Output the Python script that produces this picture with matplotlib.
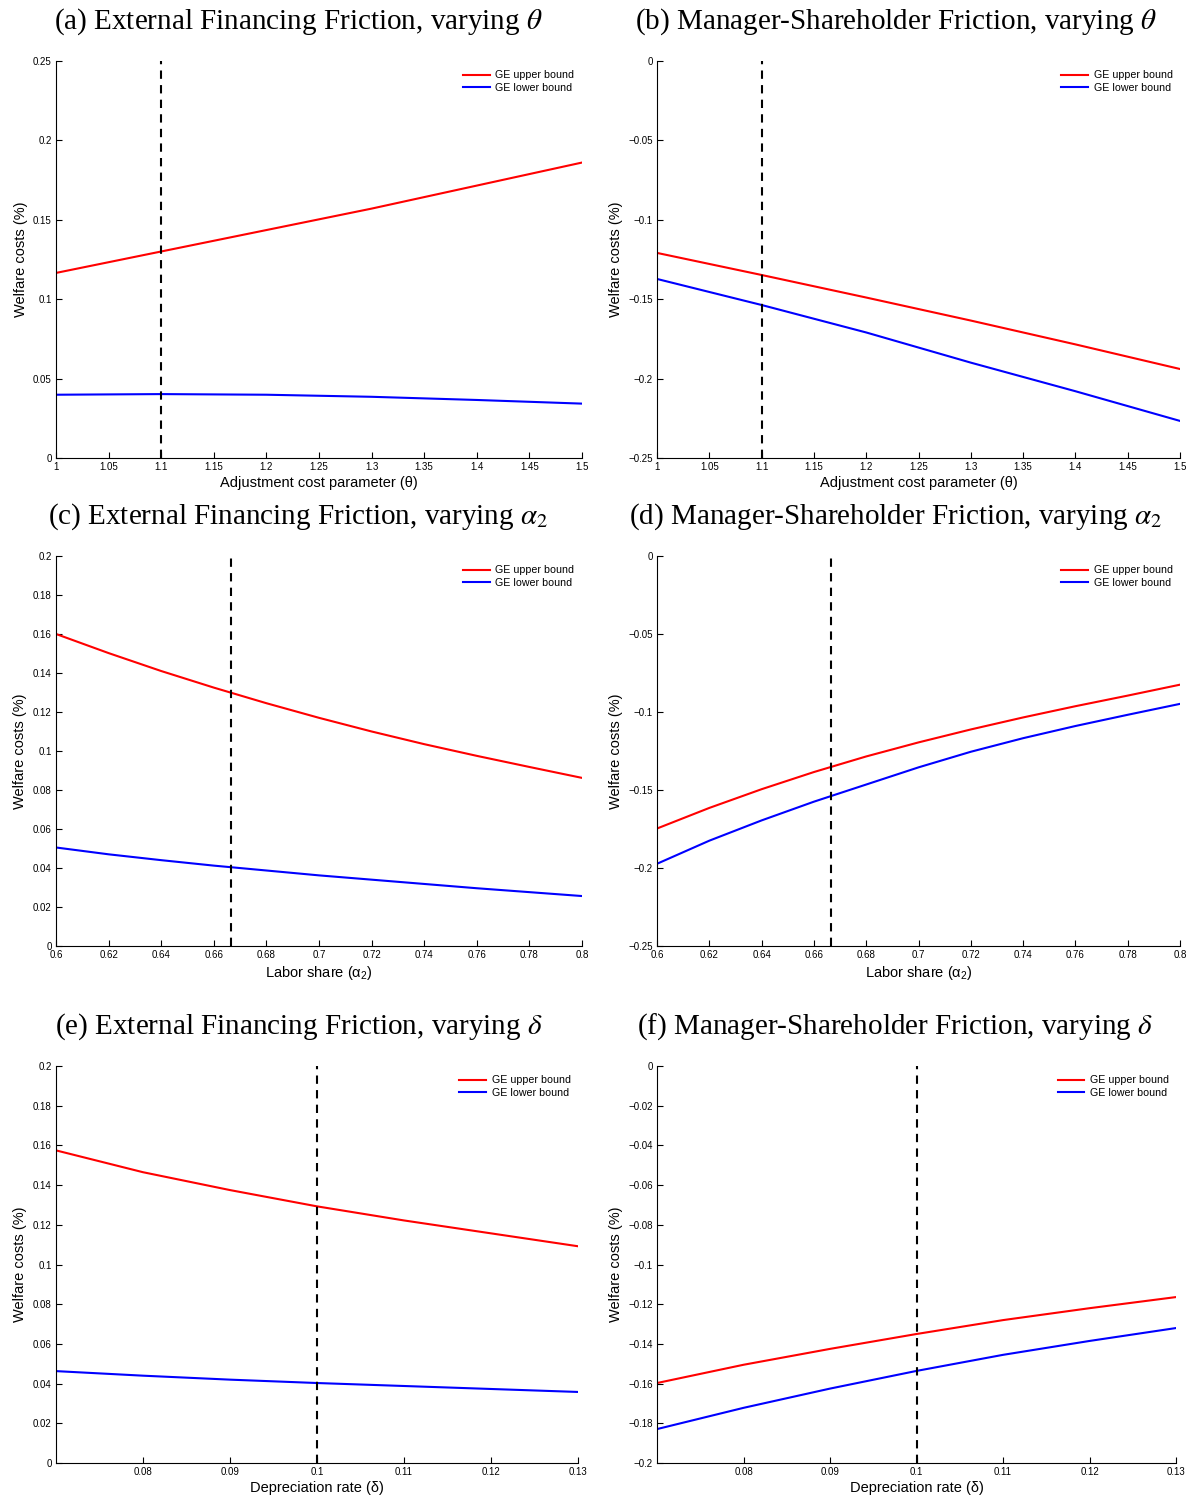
import matplotlib.pyplot as plt
from matplotlib.ticker import FuncFormatter

plt.rcParams["mathtext.fontset"] = "stix"
plt.rcParams["font.family"] = ["Liberation Sans", "DejaVu Sans"]

# panel (a)/(b): varying theta
theta = [1.0, 1.1, 1.2, 1.3, 1.4, 1.5]
ext_theta_up = [0.1165, 0.130, 0.1435, 0.157, 0.1715, 0.186]
ext_theta_lo = [0.0398, 0.0402, 0.0398, 0.0385, 0.0365, 0.0342]
mgr_theta_up = [-0.1209, -0.1348, -0.149, -0.1635, -0.1785, -0.194]
mgr_theta_lo = [-0.1373, -0.1537, -0.171, -0.190, -0.208, -0.2267]

# panel (c)/(d): varying alpha_2
alpha2 = [0.60, 0.62, 0.64, 0.66, 0.68, 0.70, 0.72, 0.74, 0.76, 0.78, 0.80]
ext_alpha_up = [0.160, 0.1502, 0.1410, 0.1325, 0.1245, 0.1170, 0.1100, 0.1035, 0.0975, 0.0918, 0.0862]
ext_alpha_lo = [0.0505, 0.0470, 0.0440, 0.0412, 0.0387, 0.0362, 0.0340, 0.0318, 0.0296, 0.0276, 0.0256]
mgr_alpha_up = [-0.1747, -0.1615, -0.1495, -0.1385, -0.1285, -0.1195, -0.1112, -0.1035, -0.0963, -0.0895, -0.0825]
mgr_alpha_lo = [-0.1973, -0.1825, -0.1695, -0.1575, -0.1465, -0.1355, -0.1255, -0.1168, -0.1090, -0.1018, -0.0948]

# panel (e)/(f): varying delta
delta = [0.07, 0.08, 0.09, 0.10, 0.11, 0.12, 0.13]
ext_delta_up = [0.1575, 0.1465, 0.1375, 0.1293, 0.1222, 0.1157, 0.1092]
ext_delta_lo = [0.0463, 0.0440, 0.0420, 0.0403, 0.0388, 0.0373, 0.0358]
mgr_delta_up = [-0.1597, -0.1505, -0.1425, -0.1350, -0.1280, -0.1220, -0.1164]
mgr_delta_lo = [-0.1829, -0.1722, -0.1625, -0.1536, -0.1455, -0.1385, -0.1320]


def tick_fmt(v, pos):
    if abs(v) < 1e-9:
        return "0"
    return ("%g" % round(v, 6)).replace("-", "\u2212")


fmt = FuncFormatter(tick_fmt)

panels = [
    # rect, title, x, up, lo, xlim, xticks, ylim, yticks, xlabel, vline
    ([0.0469, 0.6941, 0.4405, 0.2652], r"(a) External Financing Friction, varying $\theta$",
     theta, ext_theta_up, ext_theta_lo, (1, 1.5), [1 + 0.05 * i for i in range(11)],
     (0, 0.25), [0, 0.05, 0.1, 0.15, 0.2, 0.25], "Adjustment cost parameter (\u03b8)", 1.1),
    ([0.5503, 0.6941, 0.4380, 0.2652], r"(b) Manager-Shareholder Friction, varying $\theta$",
     theta, mgr_theta_up, mgr_theta_lo, (1, 1.5), [1 + 0.05 * i for i in range(11)],
     (-0.25, 0), [-0.25, -0.2, -0.15, -0.1, -0.05, 0], "Adjustment cost parameter (\u03b8)", 1.1),
    ([0.0469, 0.3681, 0.4405, 0.2605], r"(c) External Financing Friction, varying $\alpha_2$",
     alpha2, ext_alpha_up, ext_alpha_lo, (0.6, 0.8), [0.6 + 0.02 * i for i in range(11)],
     (0, 0.2), [0.02 * i for i in range(11)], r"Labor share ($\mathregular{\alpha_2}$)", 2 / 3),
    ([0.5503, 0.3681, 0.4380, 0.2605], r"(d) Manager-Shareholder Friction, varying $\alpha_2$",
     alpha2, mgr_alpha_up, mgr_alpha_lo, (0.6, 0.8), [0.6 + 0.02 * i for i in range(11)],
     (-0.25, 0), [-0.25, -0.2, -0.15, -0.1, -0.05, 0], r"Labor share ($\mathregular{\alpha_2}$)", 2 / 3),
    ([0.0469, 0.0227, 0.4372, 0.2652], r"(e) External Financing Friction, varying $\delta$",
     delta, ext_delta_up, ext_delta_lo, (0.07, 0.13), [0.08, 0.09, 0.1, 0.11, 0.12, 0.13],
     (0, 0.2), [0.02 * i for i in range(11)], "Depreciation rate (\u03b4)", 0.1),
    ([0.5503, 0.0227, 0.4347, 0.2652], r"(f) Manager-Shareholder Friction, varying $\delta$",
     delta, mgr_delta_up, mgr_delta_lo, (0.07, 0.13), [0.08, 0.09, 0.1, 0.11, 0.12, 0.13],
     (-0.2, 0), [-0.02 * i for i in range(10, -1, -1)], "Depreciation rate (\u03b4)", 0.1),
]

fig = plt.figure(figsize=(11.94, 14.97), dpi=100)

for i, (rect, title, x, up, lo, xlim, xt, ylim, yt, xlabel, vline) in enumerate(panels):
    ax = fig.add_axes(rect)
    ax.plot(x, up, color="red", lw=1.5, label="GE upper bound")
    ax.plot(x, lo, color="blue", lw=1.5, label="GE lower bound")
    ax.axvline(vline, color="black", ls=(0, (4, 3)), lw=1.5)
    ax.set_xlim(*xlim)
    ax.set_ylim(*ylim)
    ax.set_xticks(xt)
    ax.set_yticks(yt)
    ax.xaxis.set_major_formatter(fmt)
    ax.yaxis.set_major_formatter(fmt)
    ax.spines["top"].set_visible(False)
    ax.spines["right"].set_visible(False)
    ax.spines["left"].set_linewidth(0.8)
    ax.spines["bottom"].set_linewidth(0.8)
    ax.tick_params(direction="in", length=4, width=0.8, labelsize=7, pad=3)
    ax.set_xlabel(xlabel, fontsize=10.5, labelpad=2.5)
    ax.set_ylabel("Welfare costs (%)", fontsize=10.5, labelpad=4)
    # titles are centred on each half of the figure, not on the axes
    cx = 0.25 if i % 2 == 0 else 0.75
    ax.set_title(title, family=["Liberation Serif", "DejaVu Serif"], fontsize=21,
                 pad=23, x=(cx - rect[0]) / rect[2])
    ax.legend(loc="upper right", frameon=False, fontsize=7.7, handlelength=2.5,
              handletextpad=0.5, labelspacing=0.2, borderaxespad=0.3,
              bbox_to_anchor=(1.0, 0.995))

fig.savefig("out.png", dpi=100)
